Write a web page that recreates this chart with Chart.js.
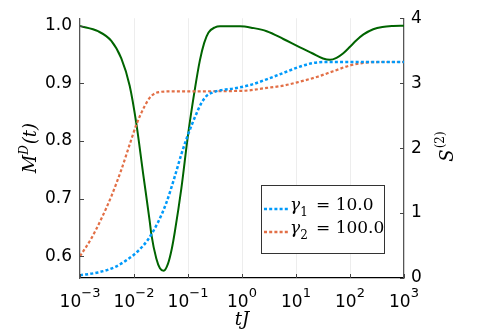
<!DOCTYPE html>
<html>
<head>
<meta charset="utf-8">
<script src="https://cdn.jsdelivr.net/npm/chart.js@4.4.1/dist/chart.umd.min.js"></script>
<style>
  html, body { margin: 0; padding: 0; background: #fff; }
  #wrap { width: 498px; height: 332px; }
</style>
</head>
<body>
<div id="wrap"><canvas id="grafico" width="498" height="332"></canvas></div>
<script>
// log10(tJ) en cada punto
const logT_g1 = [-3.0, -2.667, -2.358, -2.111, -1.926, -1.74, -1.555, -1.40, -1.246, -1.123, -1.0, -0.846, -0.75, -0.66, -0.55, -0.4, -0.16, 0.148, 0.457, 0.765, 1.074, 1.3, 1.55, 3.0];
const md_g1   = [0.567, 0.572, 0.581, 0.595, 0.609, 0.629, 0.659, 0.693, 0.738, 0.777, 0.811, 0.847, 0.866, 0.878, 0.884, 0.888, 0.891, 0.897, 0.907, 0.918, 0.929, 0.935, 0.937, 0.937];

const logT_g2 = [-3.0, -2.79, -2.605, -2.42, -2.235, -2.08, -1.957, -1.80, -1.68, -1.524, -1.31, 0.0, 0.457, 0.765, 1.074, 1.383, 1.69, 2.0, 2.3, 2.6, 3.0];
const md_g2   = [0.600, 0.631, 0.665, 0.704, 0.750, 0.794, 0.828, 0.861, 0.878, 0.885, 0.886, 0.887, 0.892, 0.896, 0.903, 0.911, 0.921, 0.931, 0.936, 0.937, 0.937];

const logT_S = [-3.0, -2.667, -2.42, -2.235, -2.08, -1.957, -1.833, -1.71, -1.68, -1.587, -1.52, -1.45, -1.37, -1.30, -1.246, -1.123, -1.0, -0.878, -0.78, -0.70, -0.62, -0.5, -0.407, -0.037, 0.2, 0.457, 0.765, 1.074, 1.3, 1.5, 1.63, 1.75, 1.876, 2.0, 2.12, 2.25, 2.43, 2.6, 2.8, 3.0];
const s2     = [3.88, 3.80, 3.65, 3.38, 2.96, 2.38, 1.62, 0.88, 0.68, 0.30, 0.15, 0.11, 0.22, 0.45, 0.70, 1.38, 2.20, 2.88, 3.35, 3.62, 3.78, 3.86, 3.876, 3.876, 3.85, 3.80, 3.68, 3.55, 3.46, 3.38, 3.36, 3.39, 3.46, 3.56, 3.66, 3.75, 3.83, 3.865, 3.88, 3.885];

const xTicks = [-3, -2, -1, 0, 1, 2, 3];
const leftTicks = [0.6, 0.7, 0.8, 0.9, 1.0];
const rightTicks = [0, 1, 2, 3, 4];
const leyenda = [
  { sub: '1', valor: '= 10.0', color: '#009AFA' },
  { sub: '2', valor: '= 100.0', color: '#E26F46' }
];

const sans = '"DejaVu Sans", sans-serif';
const serif = '"DejaVu Serif", serif';

const puntos = (xs, ys) => xs.map((x, i) => ({ x, y: ys[i] }));

// Dibujo de ticks internos, etiquetas con exponentes, títulos y leyenda
const decorado = {
  id: 'decorado',
  afterDraw(chart) {
    const { ctx, chartArea: a, scales: { x, y, y2 } } = chart;
    const linea = (x1, y1, x2, y2_) => { ctx.beginPath(); ctx.moveTo(x1, y1); ctx.lineTo(x2, y2_); ctx.stroke(); };
    ctx.save();
    ctx.strokeStyle = '#444';
    ctx.lineWidth = 1;
    xTicks.forEach(v => { const px = Math.round(x.getPixelForValue(v)) + 0.5; linea(px, a.bottom, px, a.bottom - 4); });
    leftTicks.forEach(v => { const py = Math.round(y.getPixelForValue(v)) + 0.5; linea(a.left, py, a.left + 4, py); });
    rightTicks.forEach(v => { const py = Math.round(y2.getPixelForValue(v)) + 0.5; linea(a.right, py, a.right - 4, py); });

    // etiquetas del eje x: 10^n
    ctx.fillStyle = '#000';
    ctx.textBaseline = 'alphabetic';
    ctx.textAlign = 'left';
    xTicks.forEach(v => {
      const px = x.getPixelForValue(v);
      const exp = v < 0 ? '\u2212' + (-v) : String(v);
      ctx.font = '17px ' + sans;
      const w1 = ctx.measureText('10').width;
      ctx.font = '13px ' + sans;
      const w2 = ctx.measureText(exp).width;
      const x0 = px - (w1 + w2) / 2;
      ctx.font = '17px ' + sans;
      ctx.fillText('10', x0, a.bottom + 29);
      ctx.font = '13px ' + sans;
      ctx.fillText(exp, x0 + w1, a.bottom + 19);
    });

    // título eje x
    ctx.font = 'italic 18px ' + serif;
    ctx.textAlign = 'center';
    ctx.fillText('tJ', (a.left + a.right) / 2, 325);

    // título eje izquierdo M^D(t)
    const cy = (a.top + a.bottom) / 2;
    ctx.save();
    ctx.translate(36, cy);
    ctx.rotate(-Math.PI / 2);
    ctx.textAlign = 'left';
    ctx.font = 'italic 18px ' + serif;
    const wM = ctx.measureText('M').width;
    const wT = ctx.measureText('(t)').width;
    ctx.font = 'italic 12px ' + serif;
    const wD = ctx.measureText('D').width;
    let sx = -(wM + wD + wT + 1) / 2;
    ctx.font = 'italic 18px ' + serif;
    ctx.fillText('M', sx, 0);
    ctx.font = 'italic 12px ' + serif;
    ctx.fillText('D', sx + wM, -8);
    ctx.font = 'italic 18px ' + serif;
    ctx.fillText('(t)', sx + wM + wD + 1, 0);
    ctx.restore();

    // título eje derecho S^(2)
    ctx.save();
    ctx.translate(453, 147);
    ctx.rotate(-Math.PI / 2);
    ctx.textAlign = 'left';
    ctx.font = 'italic 18px ' + serif;
    const wS = ctx.measureText('S').width;
    ctx.font = '12px ' + serif;
    const w2p = ctx.measureText('(2)').width;
    sx = -(wS + w2p) / 2;
    ctx.font = 'italic 18px ' + serif;
    ctx.fillText('S', sx, 0);
    ctx.font = '12px ' + serif;
    ctx.fillText('(2)', sx + wS + 1, -9);
    ctx.restore();

    // leyenda con marco
    ctx.fillStyle = '#fff';
    ctx.fillRect(261.5, 185.5, 123, 68);
    ctx.strokeStyle = '#333';
    ctx.lineWidth = 1;
    ctx.strokeRect(261.5, 185.5, 123, 68);
    leyenda.forEach((it, i) => {
      const by = 209 + i * 23;
      ctx.save();
      ctx.strokeStyle = it.color;
      ctx.lineWidth = 2.5;
      ctx.setLineDash([3, 2.2]);
      linea(264, by, 288, by);
      ctx.restore();
      ctx.fillStyle = '#000';
      ctx.textAlign = 'left';
      ctx.font = 'italic 17px ' + serif;
      ctx.fillText('\u03b3', 290, by + 1);
      const wg = ctx.measureText('\u03b3').width;
      ctx.font = '12px ' + serif;
      ctx.fillText(it.sub, 290 + wg, by + 7);
      ctx.font = '17px ' + serif;
      ctx.fillText(it.valor, 316, by + 1);
    });
    ctx.restore();
  }
};

const ctx = document.getElementById('grafico').getContext('2d');
new Chart(ctx, {
  type: 'line',
  data: {
    datasets: [
      {
        label: 'γ1 = 10.0',
        data: puntos(logT_g1, md_g1),
        yAxisID: 'y',
        borderColor: '#009AFA',
        borderWidth: 2.5,
        borderDash: [3, 2.2],
        pointRadius: 0,
        cubicInterpolationMode: 'monotone',
        fill: false
      },
      {
        label: 'γ2 = 100.0',
        data: puntos(logT_g2, md_g2),
        yAxisID: 'y',
        borderColor: '#E26F46',
        borderWidth: 2.2,
        borderDash: [3, 2.2],
        pointRadius: 0,
        cubicInterpolationMode: 'monotone',
        fill: false
      },
      {
        label: 'S2',
        data: puntos(logT_S, s2),
        yAxisID: 'y2',
        borderColor: '#006400',
        borderWidth: 2,
        pointRadius: 0,
        cubicInterpolationMode: 'monotone',
        fill: false
      }
    ]
  },
  options: {
    responsive: false,
    animation: false,
    devicePixelRatio: 1,
    layout: { padding: { top: 10, left: 0, right: 0, bottom: 0 } },
    plugins: {
      legend: { display: false },
      tooltip: { enabled: false }
    },
    scales: {
      x: {
        type: 'linear',
        min: -3,
        max: 3,
        afterBuildTicks: s => { s.ticks = xTicks.map(v => ({ value: v })); },
        afterFit: s => { s.height = 54; },
        ticks: { display: false },
        grid: { color: 'rgba(0,0,0,0.07)', drawTicks: false },
        border: { color: '#000', width: 1.2 }
      },
      y: {
        type: 'linear',
        position: 'left',
        min: 0.5623,
        max: 1.013,
        afterBuildTicks: s => { s.ticks = leftTicks.map(v => ({ value: v })); },
        afterFit: s => { s.width = 80; },
        ticks: { color: '#000', font: { family: sans, size: 17 }, padding: 8, callback: v => v.toFixed(1) },
        grid: { display: false, drawTicks: false },
        border: { color: '#555', width: 1.2 }
      },
      y2: {
        type: 'linear',
        position: 'right',
        min: 0,
        max: 4,
        afterBuildTicks: s => { s.ticks = rightTicks.map(v => ({ value: v })); },
        afterFit: s => { s.width = 94; },
        ticks: { color: '#000', font: { family: sans, size: 17 }, padding: 7, callback: v => String(v) },
        grid: { display: false, drawTicks: false },
        border: { color: '#555', width: 1.2 }
      }
    }
  },
  plugins: [decorado]
});
</script>
</body>
</html>
